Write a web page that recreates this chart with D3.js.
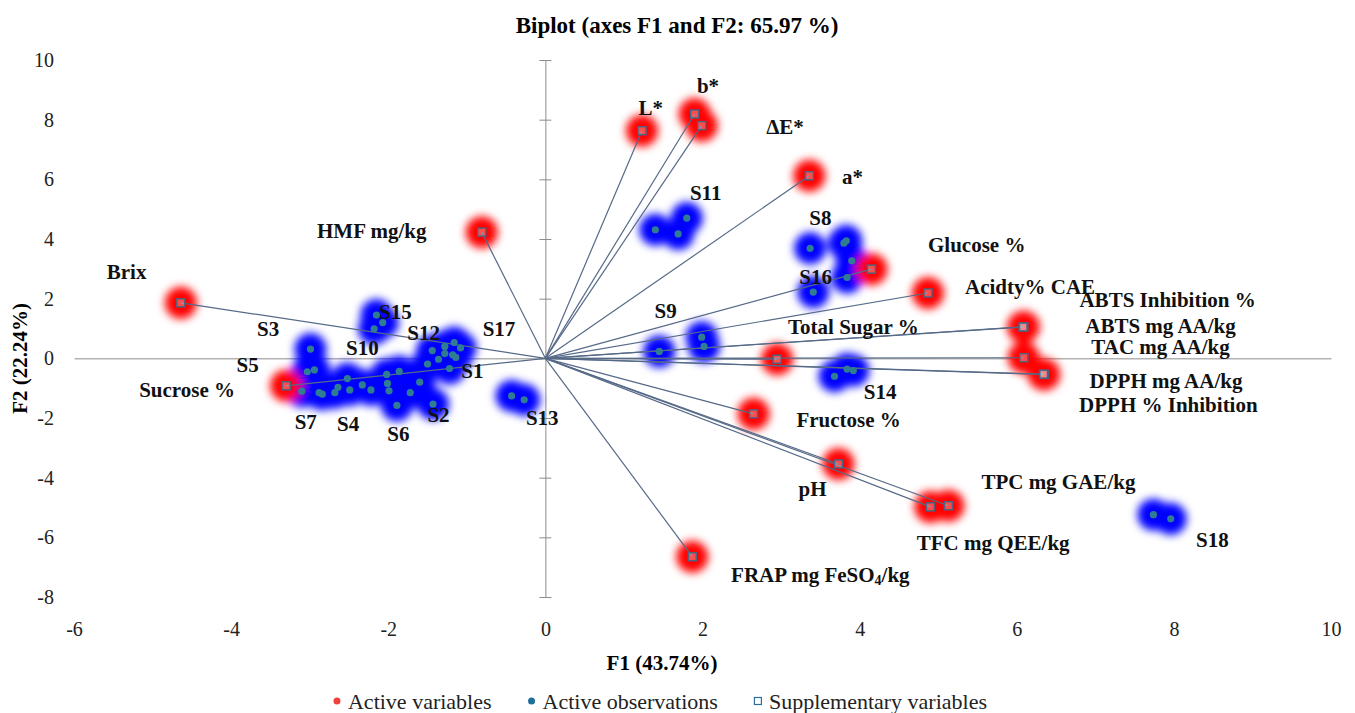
<!DOCTYPE html>
<html>
<head>
<meta charset="utf-8">
<script src="https://cdn.jsdelivr.net/npm/d3@7"></script>
<style>
body { margin: 0; background: #fff; }
svg { display: block; }
svg text { font-family: "Liberation Serif", "DejaVu Serif", serif; }
</style>
</head>
<body>
<div id="chart"></div>
<script>
// active variables (F1, F2) and where their labels sit (in F1/F2 units)
const varNames = ["L*", "b*", "ΔE*", "a*", "HMF mg/kg", "Brix", "Sucrose %", "Glucose %", "Acidty% CAE",
    "ABTS Inhibition  %", "ABTS  mg AA/kg", "TAC mg AA/kg", "DPPH mg AA/kg", "DPPH % Inhibition",
    "Total Sugar %", "Fructose %", "pH", "TPC mg GAE/kg", "TFC mg QEE/kg", "FRAP mg FeSO4/kg"];
const varF1 = [1.23, 1.90, 1.99, 3.36, -0.81, -4.64, -3.30, 4.87, 4.15,
    6.09, 6.08, 6.09, 6.35, 6.34, 2.95, 2.65, 3.73, 5.13, 4.90, 1.87];
const varF2 = [7.63, 8.19, 7.80, 6.12, 4.23, 1.86, -0.92, 2.19, 2.99,
    1.06, 1.05, 0.02, -0.54, -0.53, -0.03, -1.86, -3.54, -4.94, -4.98, -6.65];
const varLabelF1 = [1.34, 2.07, 3.05, 3.91, -2.21, -5.33, -4.56, 5.49, 6.17,
    7.92, 7.83, 7.83, 7.90, 7.93, 3.92, 3.86, 3.40, 6.53, 5.70, 3.50];
const varLabelF2 = [8.39, 9.13, 7.76, 6.08, 4.27, 2.90, -1.06, 3.80, 2.40,
    1.95, 1.10, 0.37, -0.75, -1.56, 1.06, -2.06, -4.37, -4.14, -6.18, -7.26];

// active observations (replicate points)
const obsF1 = [-2.15, -2.07, -2.18, -2.99, -3.03, -2.94, -3.10, -2.88, -2.84, -2.68, -2.64, -2.52, -2.49,
    -2.33, -2.22, -2.02, -1.86, -2.01, -1.99, -1.89, -1.72, -1.60, -1.43, -1.50, -1.44, -1.36, -1.28,
    -1.28, -1.16, -1.08, -1.18, -1.14, -1.22, -0.43, -0.27, 1.40, 1.69, 1.80, 3.37, 3.80, 3.83, 3.90,
    3.84, 3.41, 1.45, 1.99, 2.02, 3.68, 3.84, 3.92, 7.74, 7.96];
const obsF2 = [1.45, 1.20, 0.99, 0.31, -0.45, -0.39, -1.10, -1.15, -1.20, -1.15, -0.97, -0.68, -1.06,
    -0.89, -1.06, -0.54, -0.44, -0.84, -1.09, -1.58, -1.15, -0.80, -1.53, -0.19, 0.26, -0.03, 0.40,
    0.16, 0.53, 0.35, 0.12, 0.03, -0.34, -1.26, -1.39, 4.31, 4.17, 4.70, 3.69, 3.86, 3.94, 3.27,
    2.71, 2.22, 0.23, 0.71, 0.40, -0.60, -0.36, -0.41, -5.24, -5.38];

// observation labels
const obsNames = ["S1", "S2", "S3", "S4", "S5", "S6", "S7", "S8", "S9", "S10", "S11", "S12", "S13",
    "S14", "S15", "S16", "S17", "S18"];
const obsLabelF1 = [-0.93, -1.36, -3.53, -2.51, -3.79, -1.87, -3.05, 3.50, 1.53, -2.33, 2.04, -1.55,
    -0.04, 4.26, -1.91, 3.44, -0.59, 8.49];
const obsLabelF2 = [-0.42, -1.89, 0.99, -2.20, -0.22, -2.53, -2.13, 4.71, 1.59, 0.35, 5.55, 0.85,
    -1.99, -1.12, 1.56, 2.73, 0.99, -6.08];

const xTicks = [-6, -4, -2, 0, 2, 4, 6, 8, 10];
const yTicks = [-8, -6, -4, -2, 0, 2, 4, 6, 8, 10];
const legendItems = ["Active variables", "Active observations", "Supplementary variables"];

const width = 1355, height = 713;
const svg = d3.select("#chart").append("svg")
    .attr("width", width)
    .attr("height", height);

const x = d3.scaleLinear().domain([-6, 10]).range([74, 1331]);
const y = d3.scaleLinear().domain([-8, 10]).range([597, 60]);

const defs = svg.append("defs");
defs.append("filter").attr("id", "glow")
    .attr("x", "-100%").attr("y", "-100%").attr("width", "300%").attr("height", "300%")
    .append("feGaussianBlur").attr("stdDeviation", 4.2);

const vars = varNames.map((n, i) => ({name: n, f1: varF1[i], f2: varF2[i], lx: varLabelF1[i], ly: varLabelF2[i]}));
const obs = obsF1.map((v, i) => ({f1: v, f2: obsF2[i]}));
const obsLabels = obsNames.map((n, i) => ({name: n, lx: obsLabelF1[i], ly: obsLabelF2[i]}));

// title
svg.append("text")
    .attr("x", 677).attr("y", 33)
    .attr("text-anchor", "middle")
    .attr("font-size", 23).attr("font-weight", "bold")
    .text("Biplot (axes F1 and F2: 65.97 %)");

// axes through the origin
const axisColor = "#8c8c8c";
const xAxis = svg.append("g")
    .attr("transform", `translate(0,${y(0)})`)
    .call(d3.axisBottom(x).tickValues(xTicks).tickSize(0).tickFormat(""));
xAxis.select(".domain").attr("stroke", axisColor);

const yAxis = svg.append("g")
    .attr("transform", `translate(${x(0)},0)`)
    .call(d3.axisLeft(y).tickValues(yTicks).tickSize(6).tickFormat("").tickSizeOuter(0));
yAxis.select(".domain").attr("stroke", axisColor);
yAxis.selectAll(".tick line").attr("x1", 6).attr("stroke", axisColor);

// tick labels along the frame edges
const fmt = d => String(d);
const tickFont = g => g.selectAll("text").attr("font-size", 20).attr("fill", "#222")
    .attr("font-family", null);
svg.append("g")
    .attr("transform", "translate(54,0)")
    .call(d3.axisLeft(y).tickValues(yTicks).tickSize(0).tickPadding(0).tickFormat(fmt))
    .call(g => g.select(".domain").remove())
    .call(tickFont);
svg.append("g")
    .attr("transform", "translate(0,622)")
    .call(d3.axisBottom(x).tickValues(xTicks).tickSize(0).tickPadding(0).tickFormat(fmt))
    .call(g => g.select(".domain").remove())
    .call(tickFont);

// axis titles
svg.append("text")
    .attr("x", 662).attr("y", 670)
    .attr("text-anchor", "middle")
    .attr("font-size", 21).attr("font-weight", "bold")
    .text("F1 (43.74%)");
svg.append("text")
    .attr("transform", `translate(27,${y(0)}) rotate(-90)`)
    .attr("text-anchor", "middle")
    .attr("font-size", 21).attr("font-weight", "bold")
    .text("F2 (22.24%)");

// glows
const glowLayer = svg.append("g").attr("filter", "url(#glow)");
glowLayer.selectAll("circle.obsGlow")
    .data(obs).join("circle")
    .attr("class", "obsGlow")
    .attr("cx", d => x(d.f1)).attr("cy", d => y(d.f2))
    .attr("r", 16).attr("fill", "#0000ff");
glowLayer.selectAll("circle.varGlow")
    .data(vars).join("circle")
    .attr("class", "varGlow")
    .attr("cx", d => x(d.f1)).attr("cy", d => y(d.f2))
    .attr("r", 16).attr("fill", "#ff0000");

// variable vectors
svg.append("g").selectAll("line")
    .data(vars).join("line")
    .attr("x1", x(0)).attr("y1", y(0))
    .attr("x2", d => x(d.f1)).attr("y2", d => y(d.f2))
    .attr("stroke", "#566a88").attr("stroke-width", 1.2);

// observation dots
svg.append("g").selectAll("circle")
    .data(obs).join("circle")
    .attr("cx", d => x(d.f1)).attr("cy", d => y(d.f2))
    .attr("r", 3.6).attr("fill", "#2e7d92");

// squares at vector ends
svg.append("g").selectAll("rect")
    .data(vars).join("rect")
    .attr("x", d => x(d.f1) - 4).attr("y", d => y(d.f2) - 4)
    .attr("width", 8).attr("height", 8)
    .attr("fill", "rgba(255,255,255,0.3)")
    .attr("stroke", "#4d6482").attr("stroke-width", 1.5);

// labels
const labelLayer = svg.append("g")
    .attr("font-size", 21).attr("font-weight", "bold").attr("fill", "#111");
labelLayer.selectAll("text.var")
    .data(vars).join("text")
    .attr("class", "var")
    .attr("x", d => x(d.lx)).attr("y", d => y(d.ly))
    .attr("text-anchor", "middle").attr("dominant-baseline", "central")
    .each(function(d) {
        const t = d3.select(this);
        const m = d.name.match(/^(.*SO)(\d)(\/kg)$/);
        if (m) {
            t.append("tspan").text(m[1]);
            t.append("tspan").attr("font-size", 14).attr("dy", 5).text(m[2]);
            t.append("tspan").attr("dy", -5).text(m[3]);
        } else {
            t.text(d.name);
        }
    });
labelLayer.selectAll("text.obs")
    .data(obsLabels).join("text")
    .attr("class", "obs")
    .attr("x", d => x(d.lx)).attr("y", d => y(d.ly))
    .attr("text-anchor", "middle").attr("dominant-baseline", "central")
    .text(d => d.name);

// legend, laid out then centred
const legend = svg.append("g");
let lx = 0;
legendItems.forEach((name, i) => {
    if (i === 0) {
        legend.append("circle").attr("cx", lx).attr("cy", 0).attr("r", 3.5).attr("fill", "#f0403c");
    } else if (i === 1) {
        legend.append("circle").attr("cx", lx).attr("cy", 0).attr("r", 3.5).attr("fill", "#1f6e9c");
    } else {
        legend.append("rect").attr("x", lx - 3.5).attr("y", -3.5).attr("width", 7).attr("height", 7)
            .attr("fill", "none").attr("stroke", "#2a6fa0").attr("stroke-width", 1.2);
    }
    const t = legend.append("text")
        .attr("x", lx + 11).attr("y", 0)
        .attr("dominant-baseline", "central")
        .attr("font-size", 22).attr("fill", "#222")
        .text(name);
    lx += 11 + t.node().getComputedTextLength() + (i < 2 ? 40 : 0);
});
legend.attr("transform", `translate(${662 - lx / 2},701)`);
</script>
</body>
</html>
